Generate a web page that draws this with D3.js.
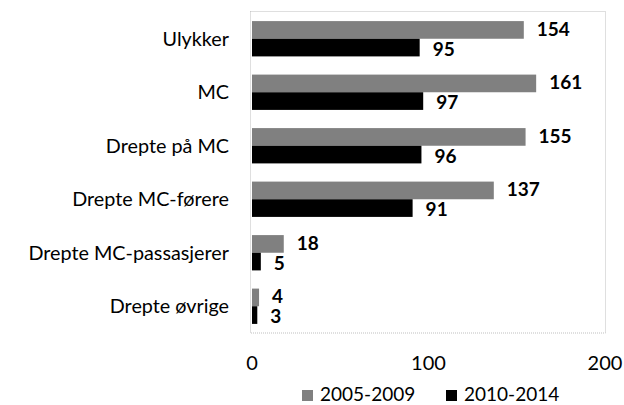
<!DOCTYPE html>
<html><head><meta charset="utf-8">
<script src="https://cdn.jsdelivr.net/npm/d3@7"></script>
<style>body{margin:0;background:#fff}svg{display:block}</style>
</head><body>
<svg id="c" width="624" height="405"></svg>
<script>
const categories = ["Ulykker","MC","Drepte på MC","Drepte MC-førere","Drepte MC-passasjerer","Drepte øvrige"];
const series = ["2005-2009","2010-2014"];
const values2005 = [154,161,155,137,18,4];
const values2010 = [95,97,96,91,5,3];
const xTicks = [0,100,200];
const colors = ["#808080","#000000"];

const svg = d3.select("#c");
const font = "Lato, 'Open Sans', sans-serif";
const x = d3.scaleLinear().domain([0,200]).range([252,605]);
const y = d3.scaleBand().domain(categories).range([12,333]).paddingInner(0.34).paddingOuter(0.17);
const sub = d3.scaleBand().domain(series).range([0,y.bandwidth()]);

svg.append("rect").attr("x",250.5).attr("y",11.5).attr("width",355).attr("height",321.5)
  .attr("fill","none").attr("stroke","#bfbfbf").attr("stroke-dasharray","1,1");

const data = categories.map((c,i)=>({c, v:[values2005[i], values2010[i]]}));
const g = svg.append("g");
series.forEach((s,si)=>{
  g.selectAll(".b"+si).data(data).enter().append("rect")
    .attr("x",x(0)).attr("y",d=>y(d.c)+sub(s))
    .attr("width",d=>x(d.v[si])-x(0)).attr("height",sub.bandwidth())
    .attr("fill",colors[si]);
  g.selectAll(".l"+si).data(data).enter().append("text")
    .attr("x",d=>x(d.v[si])+13).attr("y",d=>y(d.c)+sub(s)+sub.bandwidth()/2)
    .attr("dy",si===0?"0.3em":"0.42em").attr("font-family",font).attr("font-weight","bold").attr("font-size",19)
    .text(d=>d.v[si]);
});

svg.selectAll(".cat").data(categories).enter().append("text")
  .attr("x",229).attr("y",d=>y(d)+y.bandwidth()/2).attr("dy","0.36em")
  .attr("text-anchor","end").attr("font-family",font).attr("font-size",19.8).text(d=>d);

svg.selectAll(".tick").data(xTicks).enter().append("text")
  .attr("x",d=>x(d)).attr("y",363).attr("dy","0.36em").attr("text-anchor","middle")
  .attr("font-family",font).attr("font-size",20).text(d=>d);

const legX = [302,446];
series.forEach((s,i)=>{
  svg.append("rect").attr("x",legX[i]).attr("y",390).attr("width",11).attr("height",11).attr("fill",colors[i]);
  svg.append("text").attr("x",legX[i]+18).attr("y",394).attr("dy","0.36em")
    .attr("font-family",font).attr("font-size",19).text(s);
});
</script>
</body></html>
